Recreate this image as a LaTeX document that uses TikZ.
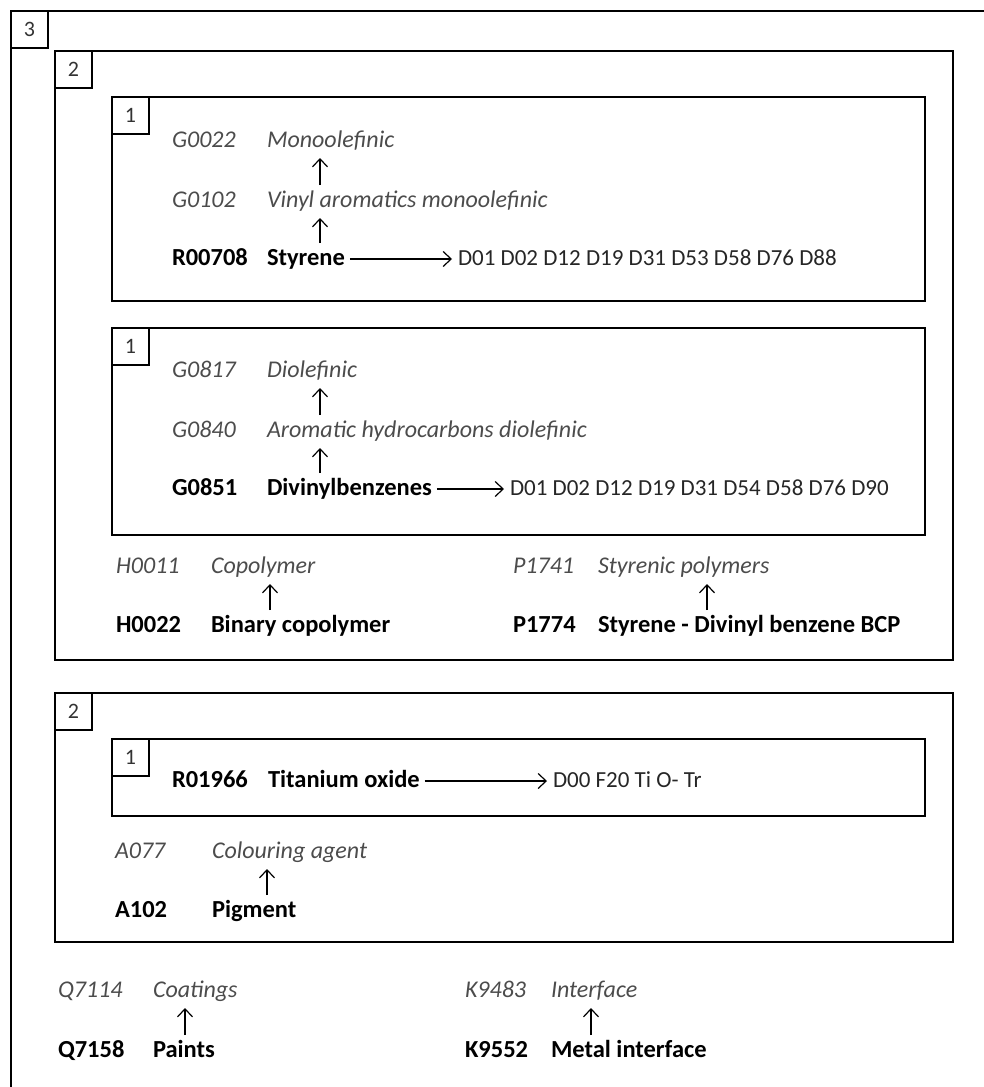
\documentclass[tikz,border=0pt]{standalone}
\usepackage{fontspec}
\setmainfont{Carlito}
\usetikzlibrary{
  arrows.meta % Straight Barb tips
}
\tikzset{
  box/.style={line width=2.4pt},
  tag/.style={draw, line width=2.4pt, anchor=north west, minimum size=37pt,
    inner sep=0pt, outer sep=0pt, font=\fontsize{22}{22}\selectfont, text=black!80},
  txt/.style={anchor=base west, inner sep=0pt, outer sep=0pt,
    text height=17pt, text depth=5pt},
  gen/.style={txt, font=\fontsize{24}{28}\selectfont\itshape, text=black!70},
  key/.style={txt, font=\fontsize{24.5}{28}\selectfont\bfseries},
  dcode/.style={txt, font=\fontsize{23}{28}\selectfont, text=black!85},
  up/.style={-{Straight Barb[length=8pt,width=15pt]}, line width=1.2pt,
    shorten <=5pt, shorten >=6pt},
  link/.style={-{Straight Barb[length=8pt,width=15pt]}, line width=1.2pt,
    shorten <=5pt, shorten >=6pt}
}

\begin{document}
\begin{tikzpicture}[x=1pt, y=-1pt]
  \useasboundingbox (0,0) rectangle (984,1087);

  % ==== 3. outer frame (runs off the page) ====
  \draw[box] (990,11) -- (11,11) -- (11,1095);
  \node[tag] (t3) at (11,11) {3};

  % ==== 2. first group ====
  \draw[box] (55,51) rectangle (953,660);
  \node[tag] (t2a) at (55,51) {2};

  % 1. styrene
  \draw[box] (112,97) rectangle (925,301);
  \node[tag] (t1a) at (112,97) {1};
  \node[gen] (g22)  at (172,147) {G0022};
  \node[gen] (mono) at (267,147) {Monoolefinic};
  \node[gen] (g102) at (172,207) {G0102};
  \node[gen] (vinyl) at (267,207) {Vinyl aromatics monoolefinic};
  \node[key] (r708) at (172,265) {R00708};
  \node[key] (styr) at (267,265) {Styrene};
  \node[dcode] (dsty) at (458,265) {D01 D02 D12 D19 D31 D53 D58 D76 D88};
  \draw[up] ([xshift=53pt]styr.north west) -- ([xshift=53pt]styr.north west |- vinyl.south);
  \draw[up] ([xshift=53pt]vinyl.north west) -- ([xshift=53pt]vinyl.north west |- mono.south);
  \draw[link] (styr.east) -- (styr.east -| dsty.west);

  % 1. divinylbenzenes
  \draw[box] (112,328) rectangle (925,535);
  \node[tag] (t1b) at (112,328) {1};
  \node[gen] (g817) at (172,377) {G0817};
  \node[gen] (diol) at (267,377) {Diolefinic};
  \node[gen] (g840) at (172,437) {G0840};
  \node[gen] (arom) at (267,437) {Aromatic hydrocarbons diolefinic};
  \node[key] (g851) at (172,495) {G0851};
  \node[key] (dvb)  at (267,495) {Divinylbenzenes};
  \node[dcode] (ddvb) at (510,495) {D01 D02 D12 D19 D31 D54 D58 D76 D90};
  \draw[up] ([xshift=53pt]dvb.north west) -- ([xshift=53pt]dvb.north west |- arom.south);
  \draw[up] ([xshift=53pt]arom.north west) -- ([xshift=53pt]arom.north west |- diol.south);
  \draw[link] (dvb.east) -- (dvb.east -| ddvb.west);

  % polymer terms
  \node[gen] (h11)  at (116,573) {H0011};
  \node[gen] (copo) at (211,573) {Copolymer};
  \node[key] (h22)  at (116,632) {H0022};
  \node[key] (bico) at (211,632) {Binary copolymer};
  \draw[up] ([xshift=59pt]bico.north west) -- ([xshift=59pt]bico.north west |- copo.south);
  \node[gen] (p1741) at (513,573) {P1741};
  \node[gen] (styp)  at (598,573) {Styrenic polymers};
  \node[key] (p1774) at (513,632) {P1774};
  \node[key] (sdvb)  at (598,632) {Styrene - Divinyl benzene BCP};
  \draw[up] ([xshift=109pt]sdvb.north west) -- ([xshift=109pt]sdvb.north west |- styp.south);

  % ==== 2. second group ====
  \draw[box] (55,693) rectangle (953,942);
  \node[tag] (t2b) at (55,693) {2};

  % 1. titanium oxide
  \draw[box] (112,739) rectangle (925,816);
  \node[tag] (t1c) at (112,739) {1};
  \node[key] (r1966) at (172,787) {R01966};
  \node[key] (tio)   at (268,787) {Titanium oxide};
  \node[dcode] (dtio) at (553,787) {D00 F20 Ti O- Tr};
  \draw[link] (tio.east) -- (tio.east -| dtio.west);

  \node[gen] (a77)  at (115,858) {A077};
  \node[gen] (colo) at (212,858) {Colouring agent};
  \node[key] (a102) at (115,917) {A102};
  \node[key] (pigm) at (212,917) {Pigment};
  \draw[up] ([xshift=55pt]pigm.north west) -- ([xshift=55pt]pigm.north west |- colo.south);

  % ==== top level terms ====
  \node[gen] (q7114) at (58,997)  {Q7114};
  \node[gen] (coat)  at (153,997) {Coatings};
  \node[key] (q7158) at (58,1057) {Q7158};
  \node[key] (pain)  at (153,1057) {Paints};
  \draw[up] ([xshift=32pt]pain.north west) -- ([xshift=32pt]pain.north west |- coat.south);
  \node[gen] (k9483) at (465,997)  {K9483};
  \node[gen] (intf)  at (551,997)  {Interface};
  \node[key] (k9552) at (465,1057) {K9552};
  \node[key] (mint)  at (551,1057) {Metal interface};
  \draw[up] ([xshift=40pt]mint.north west) -- ([xshift=40pt]mint.north west |- intf.south);
\end{tikzpicture}
\end{document}
